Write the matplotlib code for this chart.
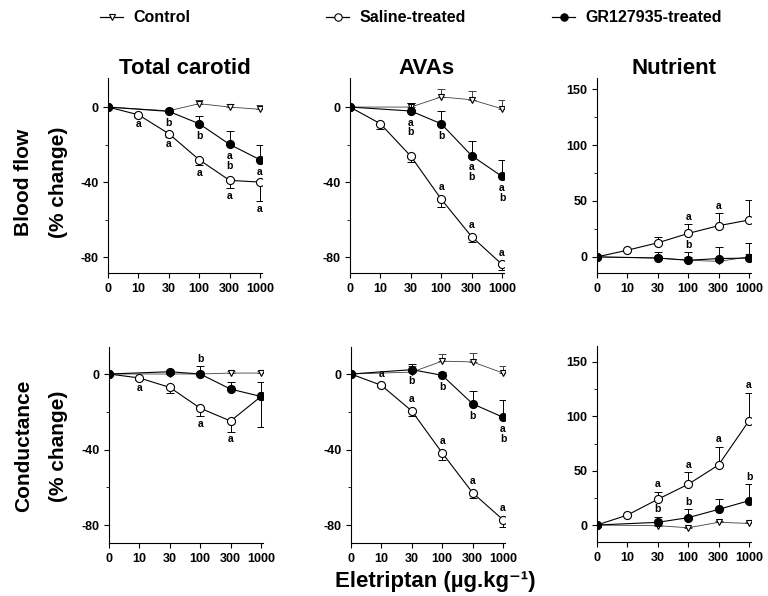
import numpy as np
import matplotlib
matplotlib.use('Agg')
import matplotlib.pyplot as plt
from matplotlib.lines import Line2D

plt.rcParams['font.family'] = ['Liberation Sans', 'DejaVu Sans']
plt.rcParams['font.weight'] = 'bold'
plt.rcParams['axes.unicode_minus'] = False

nan = np.nan
doses = ['0', '10', '30', '100', '300', '1000']
columns = ['Total carotid', 'AVAs', 'Nutrient']
row_labels = ['Blood flow', 'Conductance']

# one row per panel: flow TC, flow AVAs, flow nutrient, cond TC, cond AVAs, cond nutrient
saline_mean = [
    [0, -4.1, -14.2, -28.1, -39.1, -40.0],
    [0, -8.9, -26.2, -49.1, -69.1, -83.9],
    [0, 6.0, 12.6, 21.0, 27.9, 33.0],
    [0, -2.1, -7.1, -18.1, -24.9, -11.9],
    [0, -6.0, -19.6, -41.8, -62.9, -77.2],
    [0, 9.2, 23.7, 37.5, 55.3, 95.9],
]
saline_sem = [
    [0, 1.0, 1.5, 3.0, 4.0, 10.0],
    [0, 2.7, 2.9, 4.0, 2.9, 3.0],
    [0, 1.0, 5.4, 8.1, 11.0, 18.0],
    [0, 1.0, 2.7, 4.1, 5.6, 16.0],
    [0, 1.0, 2.7, 4.0, 2.8, 4.0],
    [0, 1.0, 6.5, 11.0, 16.3, 26.0],
]
gr_mean = [
    [0, nan, -2.3, -8.9, -19.9, -28.1],
    [0, nan, -2.1, -8.9, -25.9, -37.0],
    [0, nan, -1.0, -3.0, -1.5, -1.0],
    [0, nan, 1.2, 0.0, -8.0, -11.9],
    [0, nan, 2.3, -0.7, -15.8, -22.9],
    [0, nan, 2.5, 6.8, 14.4, 22.4],
]
gr_sem = [
    [0, nan, 1.0, 4.1, 6.9, 8.0],
    [0, nan, 4.3, 6.8, 8.0, 8.9],
    [0, nan, 5.0, 7.0, 10.0, 13.0],
    [0, nan, 1.0, 4.0, 4.0, 7.8],
    [0, nan, 3.0, 2.0, 7.0, 9.0],
    [0, nan, 5.0, 7.7, 9.5, 15.0],
]
control_mean = [
    [0, nan, -2.0, 1.8, 0.0, -1.2],
    [0, nan, 0.0, 5.4, 3.9, -0.9],
    [0, nan, -1.0, -3.0, -4.0, 0.0],
    [0, nan, 0.0, 0.0, 0.5, 0.5],
    [0, nan, 1.0, 6.8, 6.4, 0.5],
    [0, nan, -0.6, -2.5, 2.5, 1.5],
]
control_sem = [
    [0, nan, 1.0, 2.0, 1.5, 2.5],
    [0, nan, 2.0, 4.0, 4.6, 4.8],
    [0, nan, 2.0, 3.0, 3.0, 3.0],
    [0, nan, 1.0, 1.0, 1.0, 1.0],
    [0, nan, 3.0, 4.0, 4.5, 4.0],
    [0, nan, 1.0, 1.0, 1.0, 1.0],
]

# which way the one-sided error bars point in each panel
saline_err_side = [-1, -1, 1, -1, -1, 1]
gr_err_side = [1, 1, 1, 1, 1, 1]
control_err_side = [1, 1, 1, 1, 1, 1]

# significance letters: (panel, dose index, series, text, side)
letters = [
    (0, 1, 'saline', 'a', -1), (0, 2, 'saline', 'a', -1), (0, 3, 'saline', 'a', -1),
    (0, 4, 'saline', 'a', -1), (0, 5, 'saline', 'a', -1),
    (0, 2, 'gr', 'b', -1), (0, 3, 'gr', 'b', -1), (0, 4, 'gr', 'a\nb', -1), (0, 5, 'gr', 'a', -1),
    (1, 3, 'saline', 'a', 1), (1, 4, 'saline', 'a', 1), (1, 5, 'saline', 'a', 1),
    (1, 2, 'gr', 'a\nb', -1), (1, 3, 'gr', 'b', -1), (1, 4, 'gr', 'a\nb', -1), (1, 5, 'gr', 'a\nb', -1),
    (2, 3, 'saline', 'a', 1), (2, 4, 'saline', 'a', 1), (2, 3, 'gr', 'b', 1),
    (3, 1, 'saline', 'a', -1), (3, 3, 'saline', 'a', -1), (3, 4, 'saline', 'a', -1),
    (3, 3, 'gr', 'b', 1),
    (4, 1, 'saline', 'a', 1), (4, 2, 'saline', 'a', 1), (4, 3, 'saline', 'a', 1),
    (4, 4, 'saline', 'a', 1), (4, 5, 'saline', 'a', 1),
    (4, 2, 'gr', 'b', -1), (4, 3, 'gr', 'b', -1), (4, 4, 'gr', 'b', -1), (4, 5, 'gr', 'a\nb', -1),
    (5, 2, 'saline', 'a', 1), (5, 3, 'saline', 'a', 1), (5, 4, 'saline', 'a', 1), (5, 5, 'saline', 'a', 1),
    (5, 2, 'gr', 'b', 1), (5, 3, 'gr', 'b', 1), (5, 5, 'gr', 'b', 1),
]

W, H = 768, 596
fig = plt.figure(figsize=(W / 100, H / 100), dpi=100)

# panel boxes in pixels: left, top, bottom, and y limits
boxes = [
    (108, 78, 273, (-88.5, 15.5)), (350, 78, 273, (-88.5, 15.5)), (597, 78, 273, (-14.4, 160)),
    (109, 347, 543, (-89.5, 14.3)), (351, 347, 543, (-89.5, 14.3)), (597, 346, 542, (-15.6, 164.7)),
]
x_right = 5.05
step_px = 30.4

styles = {
    'control': dict(marker='v', mfc='white', ms=5, lw=0.6, color='0.25', z=2),
    'saline': dict(marker='o', mfc='white', ms=5.8, lw=0.8, color='black', z=3),
    'gr': dict(marker='o', mfc='black', ms=5.8, lw=0.8, color='black', z=4),
}


def plot_series(ax, mean, sem, side, st):
    y = np.array(mean, float)
    e = np.array(sem, float)
    x = np.arange(len(y))
    ok = ~np.isnan(y)
    show = ok & (np.nan_to_num(e) > 0)
    lo = e if side < 0 else np.zeros_like(e)
    hi = e if side > 0 else np.zeros_like(e)
    ax.errorbar(x[show], y[show], yerr=[lo[show], hi[show]], fmt='none',
                ecolor=st['color'], elinewidth=0.7, capsize=2.6, capthick=0.7,
                zorder=st['z'] - 0.5)
    ax.plot(x[ok], y[ok], color=st['color'], lw=st['lw'], marker=st['marker'],
            mfc=st['mfc'], mec='black', mew=0.8, ms=st['ms'], zorder=st['z'])


axes = []
for p, (left, top, bottom, ylim) in enumerate(boxes):
    ax = fig.add_axes([left / W, 1 - bottom / H, x_right * step_px / W, (bottom - top) / H])
    axes.append(ax)
    plot_series(ax, control_mean[p], control_sem[p], control_err_side[p], styles['control'])
    plot_series(ax, saline_mean[p], saline_sem[p], saline_err_side[p], styles['saline'])
    plot_series(ax, gr_mean[p], gr_sem[p], gr_err_side[p], styles['gr'])

    ax.set_xlim(0, x_right)
    ax.set_ylim(*ylim)
    ax.set_xticks(range(len(doses)))
    ax.set_xticklabels(doses)
    if p % 3 == 2:
        ax.set_yticks([0, 50, 100, 150])
        ax.set_yticks([25, 75, 125], minor=True)
    else:
        ax.set_yticks([0, -40, -80])
        ax.set_yticks([-20, -60], minor=True)
    for s in ['top', 'right']:
        ax.spines[s].set_visible(False)
    for s in ['left', 'bottom']:
        ax.spines[s].set_linewidth(0.8)
    ax.tick_params(axis='both', which='major', direction='out', length=3.5, width=0.8,
                   labelsize=9, pad=3.5)
    ax.tick_params(axis='y', which='minor', direction='out', length=2, width=0.6)
    for lab in ax.get_xticklabels() + ax.get_yticklabels():
        lab.set_fontweight('bold')

series_data = {
    'saline': (saline_mean, saline_sem, saline_err_side, styles['saline']),
    'gr': (gr_mean, gr_sem, gr_err_side, styles['gr']),
}
for p, i, s, txt, side in letters:
    mean, sem, err_side, st = series_data[s]
    y0 = mean[p][i]
    off = side * (st['ms'] / 2 + 2)
    if err_side[p] == side:
        y0 += side * sem[p][i]
        off = side * 2
    axes[p].annotate(txt, (i, y0), xytext=(0, off), textcoords='offset points',
                     ha='center', va='bottom' if side > 0 else 'top',
                     fontsize=7.5, fontweight='bold', linespacing=0.95, zorder=6)

# column titles
for c, name in enumerate(columns):
    left = boxes[c][0]
    fig.text((left + x_right * step_px / 2) / W, 1 - 74 / H, name, ha='center', va='baseline',
             fontsize=16, fontweight='bold')

# row labels
for r, name in enumerate(row_labels):
    yc = [182, 446][r]
    fig.text(24 / W, 1 - yc / H, name, rotation=90, ha='center', va='center',
             fontsize=15, fontweight='bold')
    fig.text(59 / W, 1 - yc / H, '(% change)', rotation=90, ha='center', va='center',
             fontsize=15, fontweight='bold')

fig.text(435 / W, 1 - 587 / H, 'Eletriptan (µg.kg⁻¹)', ha='center', va='baseline',
         fontsize=16, fontweight='bold', family=['Liberation Sans', 'DejaVu Sans'])

# legend entries across the top
legend_items = [
    ('Control', styles['control'], 100),
    ('Saline-treated', styles['saline'], 326),
    ('GR127935-treated', styles['gr'], 552),
]
for name, st, xpos in legend_items:
    h = Line2D([], [], color='black', lw=0.9, marker=st['marker'], mfc=st['mfc'],
               mec='black', mew=0.8, ms=st['ms'] - 0.5)
    fig.legend(handles=[h], labels=[name], loc='center left',
               bbox_to_anchor=(xpos / W, 1 - 18 / H), frameon=False,
               handlelength=1.45, handletextpad=0.65, borderpad=0, borderaxespad=0,
               prop={'weight': 'bold', 'size': 11.5})

fig.savefig('out.png', dpi=100)
